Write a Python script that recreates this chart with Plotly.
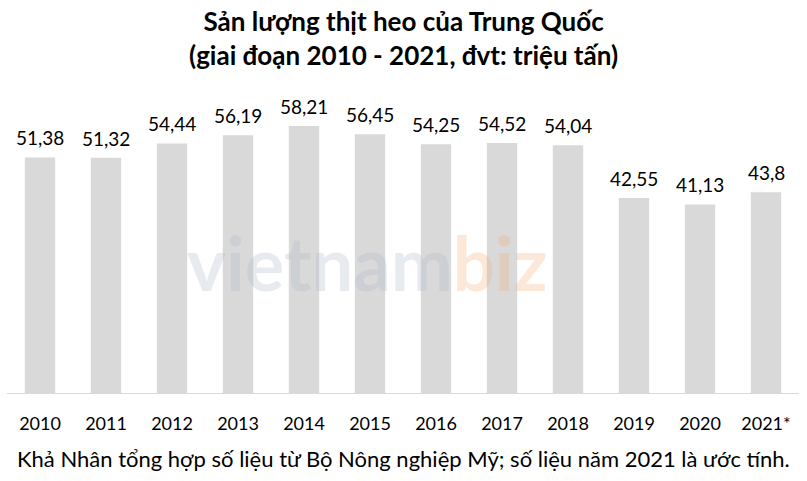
import plotly.graph_objects as go

years = ["2010", "2011", "2012", "2013", "2014", "2015", "2016", "2017", "2018", "2019", "2020", "2021*"]
production = [51.38, 51.32, 54.44, 56.19, 58.21, 56.45, 54.25, 54.52, 54.04, 42.55, 41.13, 43.8]
labels = [f"{v:g}".replace(".", ",") for v in production]

title_text = "<b>Sản lượng thịt heo của Trung Quốc<br>(giai đoạn 2010 - 2021, đvt: triệu tấn)</b>"
footer_text = "Khả Nhân tổng hợp số liệu từ Bộ Nông nghiệp Mỹ; số liệu năm 2021 là ước tính."

FONT = "Lato"
TOP, BOTTOM, H = 100, 88, 481
PLOT_H = H - TOP - BOTTOM


def py(pixel):
    """pixel row (from top) -> paper y"""
    return (H - BOTTOM - pixel) / PLOT_H


fig = go.Figure()
fig.add_trace(go.Bar(
    x=years, y=production,
    marker=dict(color="#d9d9d9", line=dict(width=0)),
    hoverinfo="skip",
))

# value labels: on a category axis, annotation x is the category index
for i, (v, lab) in enumerate(zip(production, labels)):
    fig.add_annotation(
        x=i, y=v, xref="x", yref="y", text=lab, showarrow=False,
        xanchor="center", yanchor="bottom", yshift=6,
        font=dict(family=FONT, size=19, color="#000000"),
    )

fig.update_layout(
    width=807, height=481,
    margin=dict(l=7, r=8, t=TOP, b=BOTTOM),
    paper_bgcolor="white", plot_bgcolor="white",
    bargap=0.54,
    showlegend=False,
    font=dict(family=FONT, color="#000000"),
    xaxis=dict(
        type="category", categoryorder="array", categoryarray=years,
        range=[-0.5, len(years) - 0.5],
        showgrid=False, zeroline=False,
        showline=True, linecolor="#d9d9d9", linewidth=1,
        ticks="", tickfont=dict(family=FONT, size=18, color="#000000"),
        ticklabelstandoff=14,
    ),
    yaxis=dict(range=[0, 63.9], visible=False, showgrid=False, zeroline=False),
)

fig.add_annotation(
    text=title_text, x=0.5, xref="paper", y=py(3), yref="paper",
    xanchor="center", yanchor="top", showarrow=False, align="center",
    font=dict(family=FONT, size=26, color="#000000"),
)
fig.add_annotation(
    text="<b><span style='color:rgba(175,188,205,0.30)'>vietnam</span>"
         "<span style='color:rgba(245,165,110,0.26)'>biz</span></b>",
    x=0.455, xref="paper", y=py(262), yref="paper", xanchor="center", yanchor="middle",
    showarrow=False, font=dict(family=FONT, size=74),
)
fig.add_annotation(
    text=footer_text, x=0.5, xref="paper", y=py(458), yref="paper",
    xanchor="center", yanchor="middle", showarrow=False,
    font=dict(family=FONT, size=22, color="#000000"),
)

fig.write_html("out.html", config={"displayModeBar": False},
               post_script="document.body.style.margin='0';")
